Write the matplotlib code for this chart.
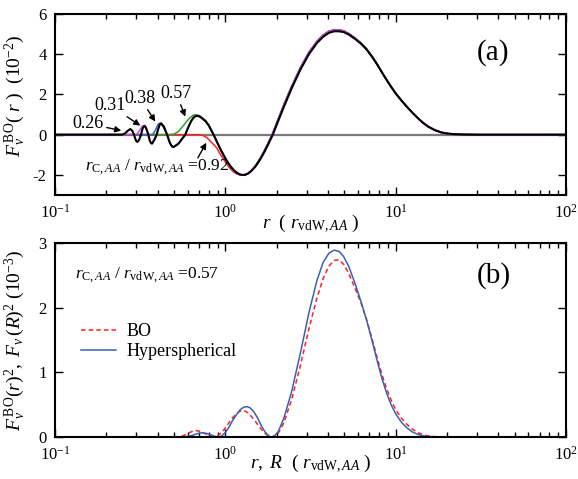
import numpy as np
import matplotlib
matplotlib.use("Agg")
import matplotlib.pyplot as plt
from matplotlib.ticker import LogLocator, NullFormatter, MultipleLocator

plt.rcParams['font.family'] = ['Liberation Serif', 'DejaVu Serif']
plt.rcParams['mathtext.fontset'] = 'custom'
plt.rcParams['mathtext.rm'] = 'Liberation Serif'
plt.rcParams['mathtext.it'] = 'Liberation Serif:italic'
plt.rcParams['mathtext.bf'] = 'Liberation Serif:bold'
plt.rcParams['axes.unicode_minus'] = False

# ---------------- panel (a) data: F_v^BO(r) in units of 1e-2 ----------------
# small-r part of the r_C = 0.26 curve (black)
r_026_head = [0.10, 0.240, 0.248, 0.258, 0.268, 0.277, 0.284, 0.291, 0.296, 0.300, 0.305,
              0.312, 0.320, 0.326, 0.331, 0.336, 0.342, 0.353, 0.360, 0.366, 0.371,
              0.383, 0.395, 0.404, 0.412, 0.420, 0.436, 0.455, 0.472, 0.486, 0.497,
              0.530]
F_026_head = [0, 0, 0.0, 0.07, 0.20, 0.28, 0.20, 0.0, -0.20, -0.32, -0.36,
              -0.25, 0.0, 0.28, 0.40, 0.44, 0.35, 0.0, -0.30, -0.42, -0.44,
              -0.25, 0.0, 0.30, 0.50, 0.56, 0.40, 0.0, -0.40, -0.58, -0.61,
              -0.45]
# middle part (first big lobe)
r_mid = [0.582, 0.600, 0.615, 0.632, 0.650, 0.665, 0.680, 0.697, 0.713, 0.740, 0.765, 0.800]
F_mid_026 = [0.0, 0.28, 0.49, 0.69, 0.84, 0.91, 0.93, 0.92, 0.88, 0.77, 0.67, 0.45]
F_mid_col = [0.0, 0.29, 0.50, 0.70, 0.85, 0.92, 0.95, 0.94, 0.90, 0.79, 0.69, 0.46]
# large-r part
r_tail = [0.853, 0.90, 0.935, 0.98, 1.02, 1.07, 1.12, 1.16, 1.20, 1.235,
          1.27, 1.31, 1.36, 1.42, 1.50, 1.60, 1.70, 1.80, 1.90, 2.05,
          2.20, 2.45, 2.76, 3.10, 3.45, 3.75, 4.05, 4.35, 4.65, 4.95,
          5.30, 5.80, 6.30, 6.76, 7.30, 7.80, 8.30, 8.85, 9.40, 10.0,
          10.8, 11.6, 12.5, 13.5, 14.5, 15.5, 17.0, 18.5, 20.0, 22.0,
          25.0, 30.0, 100.0]
F_tail_026 = [0.0, -0.42, -0.71, -1.04, -1.30, -1.56, -1.76, -1.87, -1.95, -1.99,
              -2.0, -1.99, -1.93, -1.81, -1.59, -1.24, -0.84, -0.42, 0.0, 0.71,
              1.36, 2.30, 3.24, 4.01, 4.56, 4.87, 5.06, 5.14, 5.14, 5.10,
              4.98, 4.75, 4.50, 4.23, 3.85, 3.48, 3.10, 2.72, 2.38, 2.05,
              1.70, 1.40, 1.10, 0.82, 0.58, 0.40, 0.22, 0.11, 0.06, 0.025,
              0.008, 0.0, 0.0]
F_tail_col = [0.0, -0.43, -0.72, -1.05, -1.32, -1.58, -1.78, -1.89, -1.97, -2.01,
              -2.02, -2.0, -1.93, -1.79, -1.56, -1.19, -0.78, -0.35, 0.08, 0.80,
              1.46, 2.40, 3.33, 4.10, 4.64, 4.95, 5.14, 5.21, 5.21, 5.16,
              5.03, 4.79, 4.53, 4.25, 3.87, 3.49, 3.11, 2.73, 2.39, 2.06,
              1.71, 1.41, 1.11, 0.83, 0.59, 0.41, 0.23, 0.12, 0.06, 0.025,
              0.008, 0.0, 0.0]

r_031_head = [0.10, 0.295, 0.305, 0.318, 0.326, 0.333, 0.342, 0.355, 0.362, 0.368, 0.373,
              0.385, 0.397, 0.405, 0.413, 0.420, 0.436, 0.455, 0.472, 0.486, 0.497, 0.530]
F_031_head = [0, 0, 0.05, 0.30, 0.42, 0.44, 0.32, 0.0, -0.30, -0.44, -0.46,
              -0.26, 0.0, 0.30, 0.50, 0.57, 0.41, 0.0, -0.40, -0.59, -0.62, -0.46]

r_038_head = [0.10, 0.368, 0.378, 0.390, 0.402, 0.414, 0.428, 0.455, 0.472, 0.486, 0.497, 0.530]
F_038_head = [0, 0, 0.05, 0.25, 0.50, 0.58, 0.45, 0.0, -0.41, -0.60, -0.63, -0.46]

r_057_head = [0.10, 0.470, 0.500, 0.530, 0.570, 0.610, 0.645, 0.670, 0.700, 0.735, 0.765, 0.800]
F_057_head = [0, 0, 0.03, 0.15, 0.47, 0.78, 0.96, 1.0, 0.96, 0.83, 0.70, 0.47]

r_092_head = [0.10, 0.700, 0.730, 0.780, 0.830, 0.890, 0.935, 0.98, 1.02, 1.07, 1.12,
              1.16, 1.20, 1.235]
F_092_head = [0, 0, -0.02, -0.15, -0.38, -0.65, -0.98, -1.25, -1.47, -1.70, -1.86,
              -1.94, -1.99, -2.01]

# ---------------- panel (b) data: squared, in units of 1e-3 ----------------
r_bo = [0.50, 0.53, 0.57, 0.61, 0.645, 0.67, 0.70, 0.735, 0.765, 0.80,
        0.853, 0.90, 0.935, 0.98, 1.02, 1.07, 1.12, 1.16, 1.20, 1.235,
        1.27, 1.31, 1.36, 1.42, 1.50, 1.60, 1.70, 1.80, 1.90, 2.05,
        2.20, 2.45, 2.76, 3.10, 3.45, 3.75, 4.05, 4.35, 4.65, 4.95,
        5.30, 5.80, 6.30, 6.76, 7.30, 7.80, 8.30, 8.85, 9.40, 10.0,
        10.8, 11.6, 12.5, 13.5, 14.5, 15.5, 17.0, 18.5, 20.0, 100.0]
P_bo = [0.0, 0.002, 0.022, 0.061, 0.092, 0.10, 0.092, 0.069, 0.049, 0.022,
        0.0, 0.018, 0.052, 0.11, 0.174, 0.25, 0.317, 0.357, 0.388, 0.404,
        0.408, 0.40, 0.372, 0.32, 0.243, 0.142, 0.061, 0.012, 0.0, 0.064,
        0.213, 0.576, 1.109, 1.68, 2.15, 2.45, 2.64, 2.73, 2.74, 2.67,
        2.53, 2.29, 2.05, 1.81, 1.50, 1.22, 0.97, 0.745, 0.571, 0.424,
        0.292, 0.199, 0.123, 0.069, 0.035, 0.017, 0.005, 0.001, 0.0, 0.0]

r_hs = [0.13, 0.55, 0.60, 0.64, 0.68, 0.73, 0.78, 0.83, 0.87, 0.91,
        0.95, 1.00, 1.05, 1.10, 1.16, 1.22, 1.28, 1.34, 1.40, 1.47,
        1.55, 1.63, 1.72, 1.80, 1.86, 1.95, 2.05, 2.20, 2.45, 2.76,
        3.10, 3.45, 3.75, 4.05, 4.35, 4.65, 4.95, 5.30, 5.80, 6.30,
        6.76, 7.30, 7.80, 8.30, 8.85, 9.40, 10.0, 10.8, 11.6, 12.5,
        13.5, 14.5, 15.5, 17.0, 18.5, 20.0, 100.0]
P_hs = [0.0, 0.0, 0.008, 0.025, 0.05, 0.066, 0.055, 0.03, 0.01, 0.0,
        0.015, 0.07, 0.15, 0.25, 0.34, 0.42, 0.46, 0.47, 0.45, 0.39,
        0.29, 0.17, 0.07, 0.015, 0.0, 0.02, 0.09, 0.28, 0.70, 1.30,
        1.93, 2.42, 2.70, 2.84, 2.89, 2.87, 2.79, 2.64, 2.36, 2.07,
        1.80, 1.47, 1.17, 0.91, 0.68, 0.50, 0.36, 0.23, 0.145, 0.08,
        0.04, 0.018, 0.008, 0.002, 0.0, 0.0, 0.0]

# ---------------- figure ----------------
fig = plt.figure(figsize=(5.78, 4.79), dpi=100)
axA = fig.add_axes([55/578, 1-195/479, 511/578, 181/479])
axB = fig.add_axes([55/578, 1-437/479, 511/578, 194/479])

def style(ax):
    ax.set_xscale('log')
    ax.set_xlim(0.1, 100)
    ax.xaxis.set_major_locator(LogLocator(base=10, numticks=10))
    ax.xaxis.set_minor_locator(LogLocator(base=10, subs=np.arange(2, 10), numticks=10))
    ax.xaxis.set_minor_formatter(NullFormatter())
    ax.tick_params(which='both', direction='in', top=True, right=True,
                   labelsize=12, width=1.0, pad=6)
    ax.tick_params(which='major', length=6)
    ax.tick_params(which='minor', length=3.5)
    for s in ax.spines.values():
        s.set_linewidth(1.5)

# panel (a)
style(axA)
axA.set_ylim(-3, 6)
axA.yaxis.set_major_locator(MultipleLocator(2))
axA.axhline(0, color='#7a7a7a', lw=1.6, zorder=1)
axA.plot(r_092_head + r_tail[10:], F_092_head + F_tail_col[10:], color='#ff2020', lw=1.1)
axA.plot(r_057_head + r_tail, F_057_head + F_tail_col, color='#2ea02e', lw=1.1)
axA.plot(r_038_head + r_mid + r_tail, F_038_head + F_mid_col + F_tail_col,
         color='#3a5fd0', lw=1.1)
axA.plot(r_031_head + r_mid + r_tail, F_031_head + F_mid_col + F_tail_col,
         color='#d048d0', lw=1.1)
axA.plot(r_026_head + r_mid + r_tail, F_026_head + F_mid_026 + F_tail_026,
         color='black', lw=1.5)

arrow = dict(arrowstyle='-|>', color='black', lw=1.0,
             mutation_scale=9, shrinkA=0, shrinkB=0)
ann_kw = dict(fontsize=13, ha='center', va='center', arrowprops=arrow)
axA.annotate('0.26', xy=(0.245, 0.2), xytext=(0.157, 0.55), **ann_kw)
axA.annotate('0.31', xy=(0.317, 0.45), xytext=(0.211, 1.45), **ann_kw)
axA.annotate('0.38', xy=(0.388, 0.65), xytext=(0.317, 1.8), **ann_kw)
axA.annotate('0.57', xy=(0.582, 0.9), xytext=(0.515, 2.05), **ann_kw)
axA.annotate('', xy=(0.773, -0.4), xytext=(0.69, -1.15), arrowprops=arrow)
axA.text(0.40, -1.6, r'$r_{\mathrm{C},AA}\ /\ r_{\mathrm{vdW},AA}$ =0.92',
         fontsize=12.5, ha='center', va='center')
axA.text(37.5, 4.08, '(a)', fontsize=21, ha='center', va='center')
axA.set_xlabel(r'$r\ \ (\ r_{\mathrm{vdW},AA}\ )$', fontsize=14)
axA.xaxis.set_label_coords(0.5, -0.10)
axA.set_ylabel(r'$F_v^{\,\mathrm{BO}}(\ r\ )\ \ (10^{-2})$', fontsize=14)
axA.yaxis.set_label_coords(-0.053, 0.55)

# panel (b)
style(axB)
axB.set_ylim(0, 3)
axB.yaxis.set_major_locator(MultipleLocator(1))
axB.plot(r_bo, P_bo, color='#ff2020', lw=1.1, ls=(0, (3, 2)), label='BO')
axB.plot(r_hs, P_hs, color='#3a5fb8', lw=1.1, label='Hyperspherical')
axB.legend(loc='upper left', bbox_to_anchor=(0.02, 0.67), frameon=False,
           fontsize=13, handlelength=1.9, handletextpad=0.6, labelspacing=0.15)
axB.text(0.344, 2.5, r'$r_{\mathrm{C},AA}\ /\ r_{\mathrm{vdW},AA}$ =0.57',
         fontsize=12.5, ha='center', va='center')
axB.text(37.5, 2.49, '(b)', fontsize=21, ha='center', va='center')
axB.set_xlabel(r'$r,\ R\ \ (\ r_{\mathrm{vdW},AA}\ )$', fontsize=14)
axB.xaxis.set_label_coords(0.5, -0.082)
axB.set_ylabel(r'$F_v^{\,\mathrm{BO}}(r)^2,\ F_v\,(R)^2\ (10^{-3})$', fontsize=14)
axB.yaxis.set_label_coords(-0.053, 0.5)

fig.savefig('out.png', dpi=100)
